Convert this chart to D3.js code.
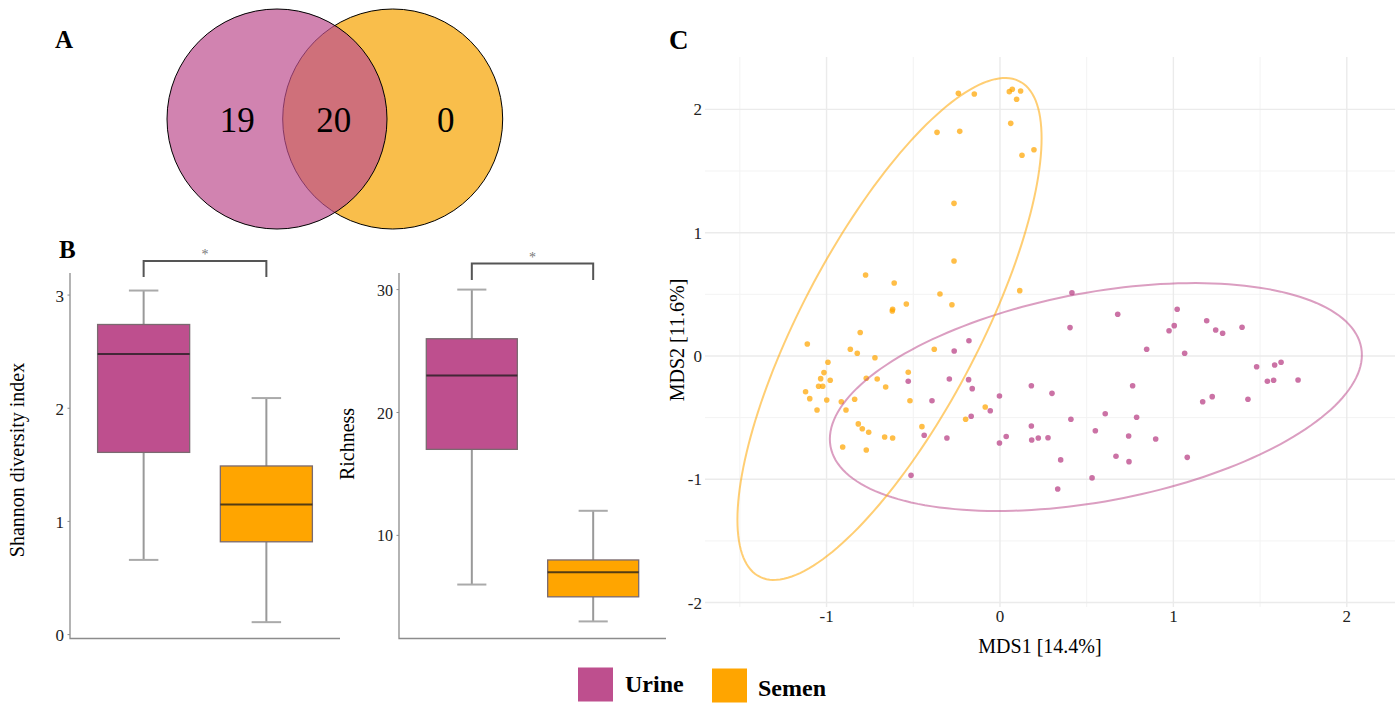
<!DOCTYPE html>
<html>
<head>
<meta charset="utf-8">
<script src="https://cdn.jsdelivr.net/npm/d3@7"></script>
<style>
  body { margin: 0; background: #fff; }
  svg { display: block; font-family: "Liberation Serif", "Times New Roman", serif; }
</style>
</head>
<body>
<div id="chart"></div>
<script>
const width = 1399;
const height = 704;

const groups = ['Urine', 'Semen'];
const groupColors = ['#BE4F8E', '#FFA500'];

// A: shared taxa (urine only, both, semen only)
const vennCounts = [19, 20, 0];

// B: box stats [lower whisker, q1, median, q3, upper whisker]
const shannonUrine = [0.66, 1.61, 2.48, 2.74, 3.04];
const shannonSemen = [0.11, 0.82, 1.15, 1.49, 2.09];
const richnessUrine = [6, 17, 23, 26, 30];
const richnessSemen = [3, 5, 7, 8, 12];
const shannonTicks = [0, 1, 2, 3];
const richnessTicks = [10, 20, 30];

// C: MDS coordinates [MDS1, MDS2]
const semenPoints = [
  [-0.240, 2.131], [-0.148, 2.125], [0.054, 2.144], [0.071, 2.163], [0.119, 2.149],
  [0.096, 2.082], [-0.363, 1.814], [-0.232, 1.822], [0.062, 1.887], [0.127, 1.628],
  [0.196, 1.673], [-0.265, 1.238], [-0.265, 0.770], [-0.775, 0.657], [-0.610, 0.592],
  [-0.346, 0.503], [-0.277, 0.416], [-0.540, 0.422], [-0.619, 0.379], [-0.621, 0.365],
  [0.114, 0.530], [-0.806, 0.191], [-1.111, 0.097], [-0.863, 0.054], [-0.823, 0.022],
  [-0.721, -0.014], [-0.992, -0.051], [-1.015, -0.135], [-1.034, -0.184], [-0.979, -0.197],
  [-1.046, -0.246], [-1.022, -0.246], [-1.121, -0.290], [-1.097, -0.346], [-0.999, -0.357],
  [-1.055, -0.438], [-0.915, -0.371], [-0.888, -0.438], [-0.838, -0.351], [-0.771, -0.181],
  [-0.708, -0.187], [-0.659, -0.251], [-0.529, -0.132], [-0.519, -0.363], [-0.379, 0.054],
  [-0.817, -0.551], [-0.794, -0.590], [-0.757, -0.619], [-0.665, -0.657], [-0.619, -0.665],
  [-0.907, -0.738], [-0.771, -0.762], [-0.450, -0.573], [-0.085, -0.414], [-0.198, -0.513]
];
const urinePoints = [
  [0.415, 0.513], [0.679, 0.338], [0.404, 0.230], [1.022, 0.379], [1.005, 0.246],
  [0.975, 0.205], [1.192, 0.286], [1.244, 0.211], [1.284, 0.184], [1.396, 0.233],
  [-0.179, 0.124], [-0.264, 0.041], [-0.529, -0.205], [-0.292, -0.187], [-0.181, -0.192],
  [-0.160, -0.265], [-0.392, -0.363], [-0.003, -0.324], [-0.056, -0.444], [-0.166, -0.489],
  [-0.437, -0.643], [-0.306, -0.665], [0.036, -0.653], [-0.003, -0.706], [-0.513, -0.968],
  [0.846, 0.054], [1.065, 0.022], [0.181, -0.241], [0.300, -0.303], [0.765, -0.241],
  [0.607, -0.468], [0.788, -0.497], [0.409, -0.513], [0.181, -0.568], [0.550, -0.606],
  [0.183, -0.681], [0.221, -0.665], [0.277, -0.663], [0.742, -0.649], [0.898, -0.673],
  [0.350, -0.843], [0.669, -0.813], [0.744, -0.857], [1.080, -0.822], [0.531, -0.989],
  [0.333, -1.079], [1.480, -0.087], [1.584, -0.073], [1.621, -0.051], [1.542, -0.205],
  [1.578, -0.197], [1.719, -0.195], [1.169, -0.371], [1.224, -0.330], [1.430, -0.351]
];
// 95% ellipses: centre and two conjugate semi-axis vectors (data units)
const semenEllipse = [[-0.637, 0.219], [0.877, 1.547], [0, 1.323]];
const urineEllipse = [[0.553, -0.333], [1.534, 0.341], [0, 0.859]];
const mdsTicksX = [-1, 0, 1, 2];
const mdsTicksY = [-2, -1, 0, 1, 2];
const mdsMinorX = [-1.5, -0.5, 0.5, 1.5];
const mdsMinorY = [-1.5, -0.5, 0.5, 1.5];

const svg = d3.select('#chart').append('svg')
  .attr('width', width)
  .attr('height', height);

const panelLabel = (x, y, t, size) => svg.append('text')
  .attr('x', x).attr('y', y)
  .attr('font-size', size).attr('font-weight', 'bold')
  .text(t);

// ---------- A: Venn ----------
panelLabel(55, 48, 'A', 25);
const venn = svg.append('g');
const r = 110;
venn.append('circle')
  .attr('cx', 392.7).attr('cy', 119).attr('r', r)
  .attr('fill', '#F7A80F').attr('fill-opacity', 0.75)
  .attr('stroke', '#000').attr('stroke-width', 1);
venn.append('circle')
  .attr('cx', 277).attr('cy', 119).attr('r', r)
  .attr('fill', groupColors[0]).attr('fill-opacity', 0.7)
  .attr('stroke', '#000').attr('stroke-width', 1);
const vennX = [237.3, 333.7, 445.7];
venn.selectAll('text.count')
  .data(vennCounts)
  .enter().append('text')
  .attr('class', 'count')
  .attr('x', (d, i) => vennX[i])
  .attr('y', 131.5)
  .attr('text-anchor', 'middle')
  .attr('font-size', 35)
  .text(d => d);

// ---------- B: box plots ----------
panelLabel(59, 258, 'B', 25);

function boxPanel (opts) {
  const g = svg.append('g');
  const x = d3.scalePoint().domain(groups).range(opts.xRange).padding(0.6);
  const y = d3.scaleLinear().domain(opts.yDomain).range([638, 273]);
  const step = x.step();
  const boxW = step * 0.75;
  const capW = boxW * 0.32;

  // axes
  g.append('path')
    .attr('d', `M${opts.xRange[0]} ${y.range()[1]} V638.5 H${opts.xRange[1]}`)
    .attr('fill', 'none').attr('stroke', '#8c8c8c').attr('stroke-width', 1.3);
  const ticks = g.selectAll('.tick').data(opts.ticks).enter().append('g');
  ticks.append('line')
    .attr('x1', opts.xRange[0] - 2.5).attr('x2', opts.xRange[0])
    .attr('y1', d => y(d)).attr('y2', d => y(d))
    .attr('stroke', '#8c8c8c');
  ticks.append('text')
    .attr('x', opts.xRange[0] - 6).attr('y', d => y(d))
    .attr('dy', '0.38em').attr('text-anchor', 'end')
    .attr('font-size', opts.tickSize).attr('fill', '#222')
    .text(d => d);

  g.append('text')
    .attr('transform', `translate(${opts.labelX},${opts.labelY}) rotate(-90)`)
    .attr('text-anchor', 'middle')
    .attr('font-size', 20)
    .text(opts.label);

  opts.stats.forEach((s, i) => {
    const cx = x(groups[i]);
    // whiskers
    g.append('line')
      .attr('x1', cx).attr('x2', cx).attr('y1', y(s[4])).attr('y2', y(s[3]))
      .attr('stroke', '#999').attr('stroke-width', 2);
    g.append('line')
      .attr('x1', cx).attr('x2', cx).attr('y1', y(s[1])).attr('y2', y(s[0]))
      .attr('stroke', '#999').attr('stroke-width', 2);
    [s[0], s[4]].forEach(v => {
      g.append('line')
        .attr('x1', cx - capW / 2).attr('x2', cx + capW / 2)
        .attr('y1', y(v)).attr('y2', y(v))
        .attr('stroke', '#aaa').attr('stroke-width', 2);
    });
    g.append('rect')
      .attr('x', cx - boxW / 2).attr('width', boxW)
      .attr('y', y(s[3])).attr('height', y(s[1]) - y(s[3]))
      .attr('fill', groupColors[i])
      .attr('stroke', '#7a6a70').attr('stroke-width', 1.3);
    g.append('line')
      .attr('x1', cx - boxW / 2).attr('x2', cx + boxW / 2)
      .attr('y1', y(s[2])).attr('y2', y(s[2]))
      .attr('stroke', '#1a1a1a').attr('stroke-opacity', 0.75).attr('stroke-width', 2);
  });

  // significance bracket
  const x0 = x(groups[0]);
  const x1 = x(groups[1]);
  g.append('path')
    .attr('d', `M${x0} ${opts.bracket[1]} V${opts.bracket[0]} H${x1} V${opts.bracket[1]}`)
    .attr('fill', 'none').attr('stroke', '#555').attr('stroke-width', 2);
  g.append('text')
    .attr('x', (x0 + x1) / 2).attr('y', opts.bracket[0] - 2)
    .attr('text-anchor', 'middle')
    .attr('font-size', 14).attr('fill', '#777')
    .text('*');
}

boxPanel({
  xRange: [70, 340], yDomain: [-0.03, 3.195], ticks: shannonTicks, tickSize: 17,
  stats: [shannonUrine, shannonSemen], label: 'Shannon diversity index',
  labelX: 24, labelY: 460, bracket: [261, 277]
});
boxPanel({
  xRange: [399, 666], yDomain: [1.65, 31.35], ticks: richnessTicks, tickSize: 16,
  stats: [richnessUrine, richnessSemen], label: 'Richness',
  labelX: 354, labelY: 444, bracket: [263.5, 280]
});

// ---------- C: MDS scatter ----------
panelLabel(669, 49, 'C', 27);
const sx = d3.scaleLinear().domain([-1.701, 2.278]).range([705, 1395]);
const sy = d3.scaleLinear().domain([-2.036, 2.425]).range([607, 57]);
const mds = svg.append('g');

const grid = mds.append('g');
grid.selectAll('.vminor').data(mdsMinorX).enter().append('line')
  .attr('x1', d => sx(d)).attr('x2', d => sx(d)).attr('y1', sy.range()[1]).attr('y2', sy.range()[0])
  .attr('stroke', '#f3f3f3').attr('stroke-width', 1);
grid.selectAll('.hminor').data(mdsMinorY).enter().append('line')
  .attr('y1', d => sy(d)).attr('y2', d => sy(d)).attr('x1', sx.range()[0]).attr('x2', sx.range()[1])
  .attr('stroke', '#f3f3f3').attr('stroke-width', 1);
grid.selectAll('.vmajor').data(mdsTicksX).enter().append('line')
  .attr('x1', d => sx(d)).attr('x2', d => sx(d)).attr('y1', sy.range()[1]).attr('y2', sy.range()[0])
  .attr('stroke', '#ebebeb').attr('stroke-width', 1.4);
grid.selectAll('.hmajor').data(mdsTicksY).enter().append('line')
  .attr('y1', d => sy(d)).attr('y2', d => sy(d)).attr('x1', sx.range()[0]).attr('x2', sx.range()[1])
  .attr('stroke', '#ebebeb').attr('stroke-width', 1.4);

mds.selectAll('.xt').data(mdsTicksX).enter().append('text')
  .attr('x', d => sx(d)).attr('y', 622)
  .attr('text-anchor', 'middle').attr('font-size', 17).attr('fill', '#222')
  .text(d => d);
mds.selectAll('.yt').data(mdsTicksY).enter().append('text')
  .attr('x', 702).attr('y', d => sy(d)).attr('dy', '0.35em')
  .attr('text-anchor', 'end').attr('font-size', 17).attr('fill', '#222')
  .text(d => d);

mds.append('text')
  .attr('x', 1040).attr('y', 653)
  .attr('text-anchor', 'middle').attr('font-size', 20)
  .text('MDS1 [14.4%]');
mds.append('text')
  .attr('transform', `translate(684,340) rotate(-90)`)
  .attr('text-anchor', 'middle').attr('font-size', 20)
  .text('MDS2 [11.6%]');

const pointSets = [urinePoints, semenPoints];
pointSets.forEach((pts, i) => {
  mds.append('g').selectAll('circle')
    .data(pts).enter().append('circle')
    .attr('cx', d => sx(d[0])).attr('cy', d => sy(d[1]))
    .attr('r', 2.8)
    .attr('fill', groupColors[i])
    .attr('fill-opacity', i === 0 ? 0.8 : 0.72);
});

const ellipseLine = d3.line().x(d => sx(d[0])).y(d => sy(d[1]));
[urineEllipse, semenEllipse].forEach((e, i) => {
  const [c, u, v] = e;
  const pts = d3.range(0, 2 * Math.PI + 0.001, Math.PI / 90).map(t => [
    c[0] + u[0] * Math.cos(t) + v[0] * Math.sin(t),
    c[1] + u[1] * Math.cos(t) + v[1] * Math.sin(t)
  ]);
  mds.append('path')
    .attr('d', ellipseLine(pts))
    .attr('fill', 'none')
    .attr('stroke', groupColors[i])
    .attr('stroke-opacity', 0.55)
    .attr('stroke-width', 2);
});

// ---------- legend ----------
const legend = svg.append('g');
const legendX = [578, 712];
const textX = [625, 758];
groups.forEach((gname, i) => {
  legend.append('rect')
    .attr('x', legendX[i]).attr('y', 667.5 + i)
    .attr('width', 35).attr('height', 34)
    .attr('fill', groupColors[i]);
  legend.append('text')
    .attr('x', textX[i]).attr('y', 692 + i * 3.5)
    .attr('font-size', 24).attr('font-weight', 'bold')
    .text(gname);
});
</script>
</body>
</html>
